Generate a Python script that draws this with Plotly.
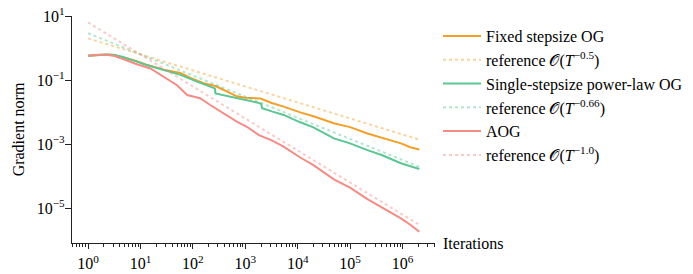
import plotly.graph_objects as go

# ---- data ----
iters_fixed = [1, 1.58, 2.3, 3.2, 5, 8, 13, 28, 58, 90, 160, 270, 400, 690, 1000, 1950,
               3200, 5400, 11200, 20000, 49000, 100000, 214000, 400000, 933000, 1410000, 2090000]
norm_fixed = [0.575, 0.617, 0.631, 0.603, 0.501, 0.398, 0.302, 0.210, 0.166, 0.117, 0.0794,
              0.0650, 0.0479, 0.0310, 0.0282, 0.0263, 0.0191, 0.0148, 0.00977, 0.00741,
              0.00447, 0.00339, 0.00214, 0.00158, 0.00105, 0.000794, 0.000676]

iters_power = [1, 1.58, 2.3, 3.2, 4.8, 8, 13, 28, 58, 120, 200, 263, 270, 400, 525, 1070,
               1660, 2000, 2100, 3200, 5400, 11200, 20000, 49000, 100000, 214000, 400000,
               933000, 1410000, 2090000]
norm_power = [0.575, 0.617, 0.631, 0.603, 0.513, 0.389, 0.295, 0.204, 0.145, 0.0891, 0.0631,
              0.0550, 0.0380, 0.0331, 0.0302, 0.0240, 0.0200, 0.0182, 0.0132, 0.0105, 0.00813,
              0.00479, 0.00331, 0.00151, 0.00105, 0.000646, 0.000457, 0.000251, 0.000200,
              0.000166]

iters_aog = [1, 1.58, 2.3, 3.2, 4.8, 8, 15.5, 28, 50, 78, 95, 138, 214, 390, 690, 1070, 1820,
             3200, 5400, 11200, 20000, 49000, 100000, 214000, 400000, 933000, 1410000, 2090000]
norm_aog = [0.575, 0.617, 0.617, 0.562, 0.447, 0.324, 0.229, 0.126, 0.069, 0.0339, 0.0316,
            0.0269, 0.0166, 0.00912, 0.00501, 0.00347, 0.00191, 0.00130, 0.000832, 0.000380,
            0.000219, 0.0000794, 0.0000437, 0.0000191, 0.0000107, 0.00000479, 0.00000302,
            0.00000182]

ref_iters = [1, 2090000]
ref_fixed = [2.0, 0.00138]
ref_power = [2.9, 0.000195]
ref_aog = [6.3, 0.0000030]

names = ["Fixed stepsize OG", "reference 𝒪(<i>T</i><sup>−0.5</sup>)",
         "Single-stepsize power-law OG", "reference 𝒪(<i>T</i><sup>−0.66</sup>)",
         "AOG", "reference 𝒪(<i>T</i><sup>−1.0</sup>)"]

x_major = [1, 10, 100, 1000, 10000, 100000, 1000000]
x_major_text = ["10<sup>0</sup>", "10<sup>1</sup>", "10<sup>2</sup>", "10<sup>3</sup>",
                "10<sup>4</sup>", "10<sup>5</sup>", "10<sup>6</sup>"]
y_major = [10, 0.1, 0.001, 0.00001]
y_major_text = ["10<sup>1</sup>", "10<sup>−1</sup>", "10<sup>−3</sup>", "10<sup>−5</sup>"]

# ---- styling ----
c_or, c_gr, c_rd = "#F2A02A", "#5CC592", "#F28C84"
c_or_l, c_gr_l, c_rd_l = "rgba(242,160,42,0.45)", "rgba(92,197,146,0.45)", "rgba(242,140,132,0.45)"
FONT = "Liberation Serif"

fig = go.Figure()
series = [
    (iters_fixed, norm_fixed, c_or, "solid", 2),
    (ref_iters, ref_fixed, c_or_l, "dot", 2),
    (iters_power, norm_power, c_gr, "solid", 2),
    (ref_iters, ref_power, c_gr_l, "dot", 2),
    (iters_aog, norm_aog, c_rd, "solid", 2),
    (ref_iters, ref_aog, c_rd_l, "dot", 2),
]
for (x, y, col, dash, w), nm in zip(series, names):
    fig.add_trace(go.Scatter(x=x, y=y, mode="lines", name=nm,
                             line=dict(color=col, dash=dash, width=w)))

minor_x = []
for e in range(-1, 7):
    for m in range(2, 10):
        v = m * 10 ** e
        if 0.49 <= v <= 4.2e6:
            minor_x.append(v)

fig.update_layout(
    width=693, height=274,
    margin=dict(l=72, r=258, t=16, b=31, autoexpand=False),
    paper_bgcolor="white", plot_bgcolor="white",
    font=dict(family=FONT, size=16, color="black"),
    showlegend=True,
    legend=dict(x=438 / 693, xanchor="left", xref="container",
                y=1 - 19 / 274, yanchor="top", yref="container",
                font=dict(family=FONT, size=16), bgcolor="rgba(0,0,0,0)",
                tracegroupgap=0, itemwidth=38, maxheight=400),
    xaxis=dict(type="log", range=[-0.306, 6.62], showgrid=False, zeroline=False,
               automargin=False,
               showline=True, linecolor="#222", linewidth=1.2,
               ticks="outside", ticklen=5, tickwidth=1, tickcolor="#222",
               tickvals=x_major, ticktext=x_major_text, ticklabelstandoff=1,
               tickfont=dict(family=FONT, size=16),
               minor=dict(tickvals=minor_x, ticks="outside", ticklen=3,
                          tickwidth=0.8, tickcolor="#222", showgrid=False)),
    yaxis=dict(type="log", range=[-6.09, 1.0], showgrid=False, zeroline=False,
               automargin=False,
               showline=True, linecolor="#222", linewidth=1.2,
               ticks="outside", ticklen=6, tickwidth=1, tickcolor="#222",
               tickvals=y_major, ticktext=y_major_text, ticklabelstandoff=-3,
               tickfont=dict(family=FONT, size=16),
               title=dict(text="Gradient norm", font=dict(family=FONT, size=16), standoff=8)),
    annotations=[dict(text="Iterations", xref="paper", yref="paper", x=1.0, y=0.0,
                      xanchor="left", yanchor="middle", xshift=6, showarrow=False,
                      font=dict(family=FONT, size=16))],
)

fig.write_html("out.html")
